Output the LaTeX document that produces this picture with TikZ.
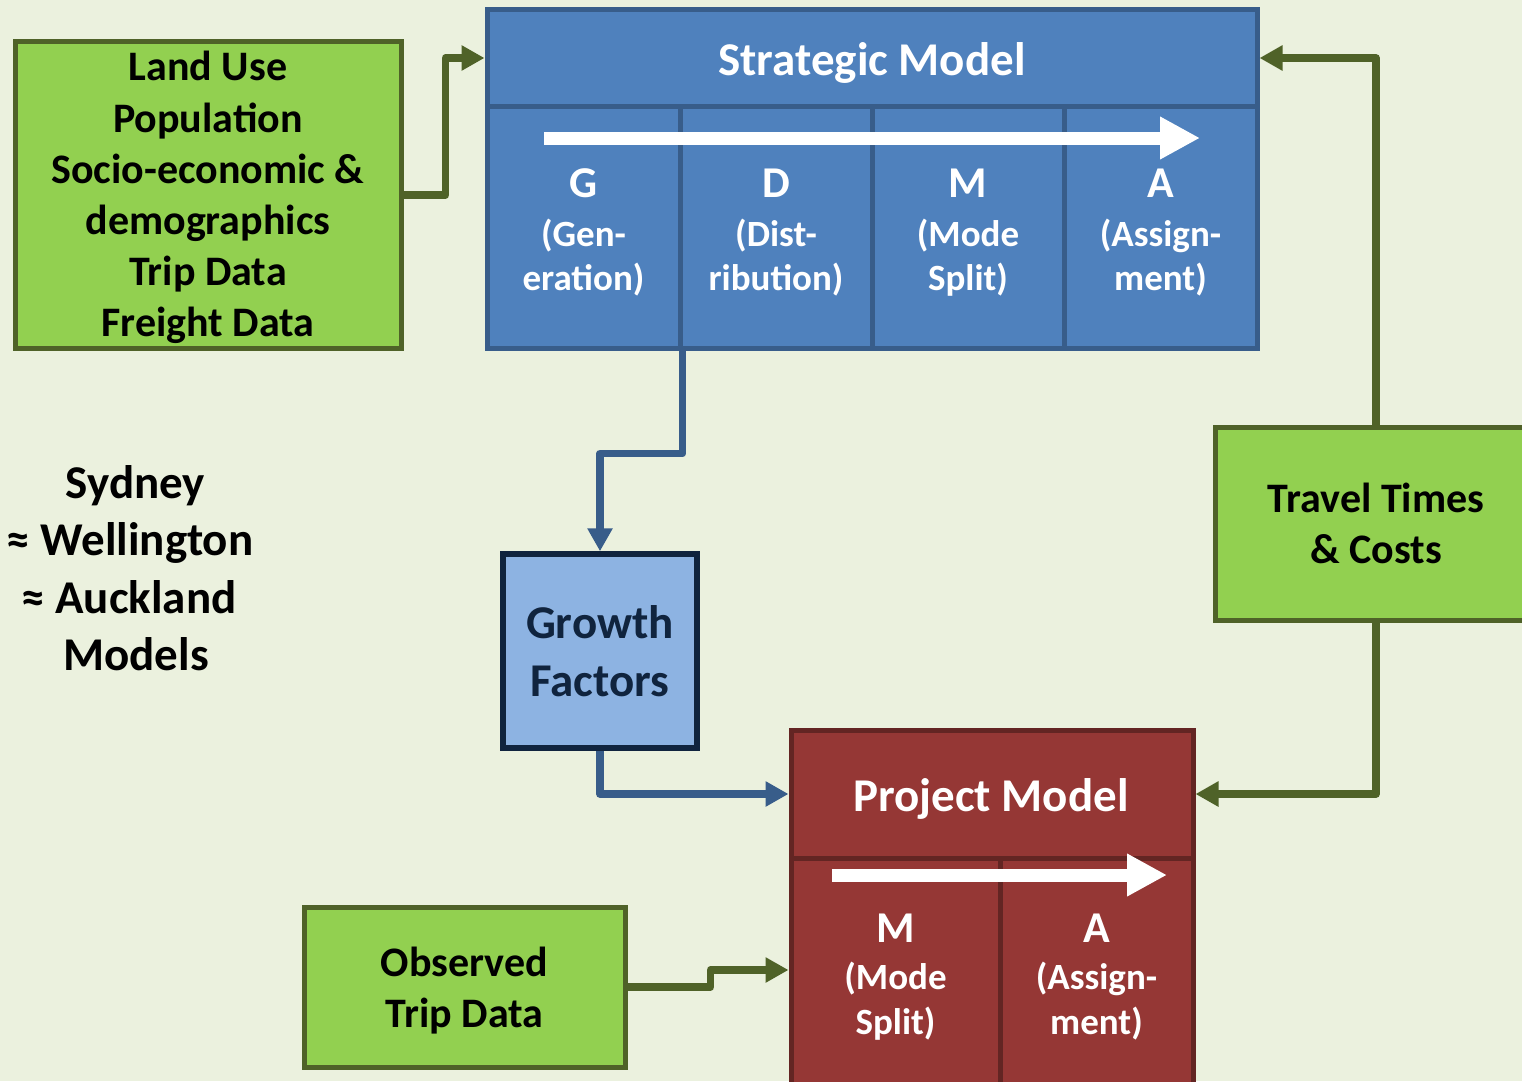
\documentclass[tikz,border=0pt]{standalone}
\usepackage{fontspec}
\setmainfont{Carlito}
\usetikzlibrary{arrows.meta,calc}
\definecolor{bgc}{HTML}{EBF1DE}
\definecolor{gfill}{HTML}{92D050}
\definecolor{gline}{HTML}{4F6228}
\definecolor{bfill}{HTML}{4F81BD}
\definecolor{bline}{HTML}{385D8A}
\definecolor{lbfill}{HTML}{8DB3E2}
\definecolor{navy}{HTML}{10243E}
\definecolor{rfill}{HTML}{953735}
\definecolor{rline}{HTML}{632523}
\begin{document}
\begin{tikzpicture}[x=1pt,y=-1pt,
  greenbox/.style={draw=gline, fill=gfill, line width=5pt, inner sep=0pt},
  bluebox/.style={draw=bline, fill=bfill, line width=5pt, inner sep=0pt},
  redbox/.style={draw=rline, fill=rfill, line width=5pt, inner sep=0pt},
  growthbox/.style={draw=navy, fill=lbfill, line width=5.5pt, inner sep=0pt},
  txt/.style={anchor=base, inner sep=0pt, text=black, font=\bfseries\fontsize{42}{50}\selectfont},
  bigtxt/.style={anchor=base, inner sep=0pt, text=black, font=\bfseries\fontsize{47}{56}\selectfont},
  ttl/.style={anchor=base, inner sep=0pt, text=white, font=\bfseries\fontsize{47}{56}\selectfont},
  letter/.style={anchor=base, inner sep=0pt, text=white, font=\bfseries\fontsize{44}{52}\selectfont},
  sub/.style={anchor=base, inner sep=0pt, text=white, font=\bfseries\fontsize{37}{44}\selectfont},
  garrow/.style={draw=gline, line width=7.5pt, line join=round, -{Triangle[length=23pt,width=24pt]}},
  barrow/.style={draw=bline, line width=7.5pt, line join=round, -{Triangle[length=23pt,width=24pt]}},
  flow/.style={draw=white, line width=13pt, -{Triangle[length=40pt,width=40pt]}}
]
\useasboundingbox (0,0) rectangle (1522,1081);
\fill[bgc] (0,0) rectangle (1522,1081);

% Land use box
\node[greenbox, minimum width=386pt, minimum height=306pt] (landuse) at (208,195) {};
\node[txt] (lu1) at (208,81) {Land Use};
\node[txt] (lu2) at (208,132) {Population};
\node[txt] (lu3) at (208,183) {Socio-economic \&};
\node[txt] (lu4) at (208,234) {demographics};
\node[txt] (lu5) at (208,285) {Trip Data};
\node[txt] (lu6) at (208,336) {Freight Data};

% Strategic model
\node[bluebox, minimum width=770pt, minimum height=96pt] (shead) at (872,58) {};
\node[bluebox, minimum width=193pt, minimum height=242pt] (sG) at (583.5,227) {};
\node[bluebox, minimum width=192pt, minimum height=242pt] (sD) at (776,227) {};
\node[bluebox, minimum width=192pt, minimum height=242pt] (sM) at (968,227) {};
\node[bluebox, minimum width=193pt, minimum height=242pt] (sA) at (1160.5,227) {};
\node[ttl] (stitle) at (872,75) {Strategic Model};
\coordinate (sflowA) at (544,138);
\coordinate (sflowB) at (1200,138);
\draw[flow] (sflowA) -- (sflowB);
\node[letter] (sGl) at (583.5,197) {G};
\node[sub] (sG1) at (583.5,246) {(Gen-};
\node[sub] (sG2) at (583.5,290) {eration)};
\node[letter] (sDl) at (776,197) {D};
\node[sub] (sD1) at (776,246) {(Dist-};
\node[sub] (sD2) at (776,290) {ribution)};
\node[letter] (sMl) at (968,197) {M};
\node[sub] (sM1) at (968,246) {(Mode};
\node[sub] (sM2) at (968,290) {Split)};
\node[letter] (sAl) at (1160.5,197) {A};
\node[sub] (sA1) at (1160.5,246) {(Assign-};
\node[sub] (sA2) at (1160.5,290) {ment)};

% Growth factors
\node[growthbox, minimum width=194pt, minimum height=194pt] (growth) at (600,651) {};
\node[bigtxt, text=navy] (gr1) at (600,638) {Growth};
\node[bigtxt, text=navy] (gr2) at (600,696) {Factors};

% Project model
\node[redbox, minimum width=402pt, minimum height=128pt] (phead) at (992,794) {};
\node[redbox, minimum width=209pt, minimum height=242pt] (pM) at (895.5,979) {};
\node[redbox, minimum width=193pt, minimum height=242pt] (pA) at (1096.5,979) {};
\node[ttl] (ptitle) at (991,811) {Project Model};
\coordinate (pflowA) at (832,875);
\coordinate (pflowB) at (1167,875);
\draw[flow] (pflowA) -- (pflowB);
\node[letter] (pMl) at (895.5,942) {M};
\node[sub] (pM1) at (895.5,989) {(Mode};
\node[sub] (pM2) at (895.5,1034) {Split)};
\node[letter] (pAl) at (1096.5,942) {A};
\node[sub] (pA1) at (1096.5,989) {(Assign-};
\node[sub] (pA2) at (1096.5,1034) {ment)};

% Travel times
\node[greenbox, minimum width=322pt, minimum height=193pt] (travel) at (1376,523.5) {};
\node[txt] (tt1) at (1376,512) {Travel Times};
\node[txt] (tt2) at (1376,563) {\& Costs};

% Observed trip data
\node[greenbox, minimum width=321pt, minimum height=160pt] (observed) at (464.5,987) {};
\node[txt] (ob1) at (464.5,976) {Observed};
\node[txt] (ob2) at (464.5,1027) {Trip Data};

% Sydney text
\node[bigtxt] (sy1) at (135.5,498) {Sydney};
\node[bigtxt] (sy2) at (130,555) {≈ Wellington};
\node[bigtxt] (sy3) at (129,613) {≈ Auckland};
\node[bigtxt] (sy4) at (136,670) {Models};

% connectors
\draw[garrow] (landuse.east) -- ++(42,0) |- (shead.west);
\draw[barrow] (sG.south east) -- ++(0,103) -| (growth.north);
\draw[barrow] (growth.south) |- (phead.west);
\draw[garrow] (travel.north) |- (shead.east);
\draw[garrow] (travel.south) |- (phead.east);
\draw[garrow] (observed.east) -- ++(83,0) |- ([yshift=9pt]pM.west);
\end{tikzpicture}
\end{document}
